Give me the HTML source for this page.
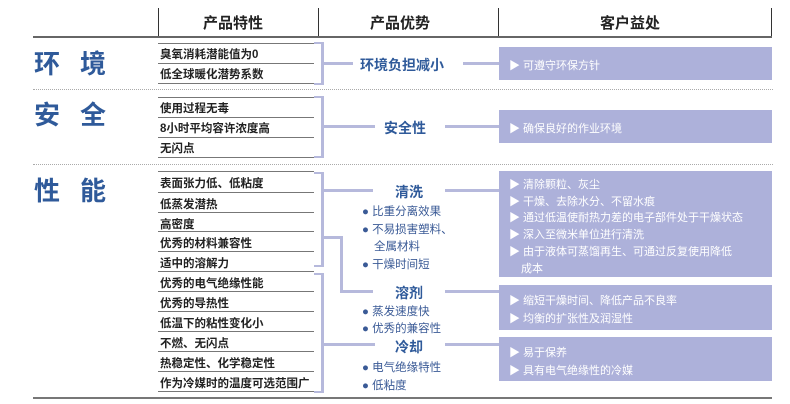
<!DOCTYPE html>
<html><head><meta charset="utf-8"><style>
body{margin:0;width:790px;height:404px;background:#fff;position:relative;overflow:hidden;font-family:"Liberation Sans","Noto Sans CJK SC",sans-serif}
div,span{position:absolute}
.h{font-size:15px;font-weight:bold;color:#222;top:12px}
.cat{font-size:26px;color:#2f5a9a;font-weight:bold;letter-spacing:20px}
.r{left:160px;font-size:11.5px;font-weight:bold;color:#222}
.ln{left:158px;width:156px;height:1px;background:#777}
.dot{left:33px;width:740px;border-top:1px dotted #aaa;height:0}
.b{background:#b6b9dc}
.box{left:499px;width:273px;background:#adb1da;color:#fff;font-size:11px}
.box p{margin:0;position:absolute;left:10px}
.mid{font-size:14px;color:#2f5a9a;font-weight:bold}
.bul{font-size:11.5px;color:#3a5a96;left:362px}
</style></head><body>
<div style="left:158px;top:8px;width:1px;height:28px;background:#333"></div>
<div style="left:318px;top:8px;width:1px;height:28px;background:#333"></div>
<div style="left:498px;top:8px;width:1px;height:28px;background:#333"></div>
<div style="left:771px;top:8px;width:1px;height:28px;background:#333"></div>
<div class="h" style="left:203px">产品特性</div>
<div class="h" style="left:370px">产品优势</div>
<div class="h" style="left:600px">客户益处</div>
<div style="left:33px;top:36px;width:739px;height:2px;background:#666"></div>

<div class="cat" style="left:34px;top:44px">环境</div>
<div class="cat" style="left:34px;top:95px">安全</div>
<div class="cat" style="left:34px;top:171px">性能</div>

<div class="ln" style="top:43px"></div><div class="ln" style="top:63px"></div><div class="ln" style="top:83px"></div>
<div class="r" style="top:46px">臭氧消耗潜能值为0</div>
<div class="r" style="top:66px">低全球暖化潜势系数</div>
<div class="dot" style="top:89px"></div>
<div class="ln" style="top:97px"></div><div class="ln" style="top:117px"></div><div class="ln" style="top:137px"></div><div class="ln" style="top:157px"></div>
<div class="r" style="top:100px">使用过程无毒</div>
<div class="r" style="top:120px">8小时平均容许浓度高</div>
<div class="r" style="top:140px">无闪点</div>
<div class="dot" style="top:164px"></div>
<div class="ln" style="top:171px"></div>
<div class="r" style="top:175px">表面张力低、低粘度</div><div class="ln" style="top:192px"></div>
<div class="r" style="top:196px">低蒸发潜热</div><div class="ln" style="top:212px"></div>
<div class="r" style="top:216px">高密度</div><div class="ln" style="top:231px"></div>
<div class="r" style="top:235px">优秀的材料兼容性</div><div class="ln" style="top:251px"></div>
<div class="r" style="top:255px">适中的溶解力</div><div class="ln" style="top:271px"></div>
<div class="r" style="top:275px">优秀的电气绝缘性能</div><div class="ln" style="top:291px"></div>
<div class="r" style="top:295px">优秀的导热性</div><div class="ln" style="top:311px"></div>
<div class="r" style="top:315px">低温下的粘性变化小</div><div class="ln" style="top:331px"></div>
<div class="r" style="top:335px">不燃、无闪点</div><div class="ln" style="top:351px"></div>
<div class="r" style="top:355px">热稳定性、化学稳定性</div><div class="ln" style="top:371px"></div>
<div class="r" style="top:375px">作为冷媒时的温度可选范围广</div><div class="ln" style="top:391px"></div>
<div style="left:33px;top:397px;width:739px;height:2px;background:#777"></div>

<div class="b" style="left:314px;top:42px;width:9px;height:2px"></div>
<div class="b" style="left:321px;top:42px;width:3px;height:43px"></div>
<div class="b" style="left:314px;top:83px;width:9px;height:2px"></div>
<div class="b" style="left:323px;top:62px;width:30px;height:3px"></div>
<div class="mid" style="left:360px;top:55px">环境负担减小</div>
<div class="b" style="left:463px;top:62px;width:36px;height:3px"></div>

<div class="b" style="left:314px;top:96px;width:9px;height:2px"></div>
<div class="b" style="left:321px;top:96px;width:3px;height:62px"></div>
<div class="b" style="left:314px;top:156px;width:9px;height:2px"></div>
<div class="b" style="left:323px;top:125px;width:52px;height:3px"></div>
<div class="mid" style="left:384px;top:118px">安全性</div>
<div class="b" style="left:445px;top:125px;width:54px;height:3px"></div>

<div class="b" style="left:314px;top:172px;width:9px;height:2px"></div>
<div class="b" style="left:321px;top:172px;width:3px;height:95px"></div>
<div class="b" style="left:314px;top:265px;width:9px;height:2px"></div>
<div class="b" style="left:323px;top:189px;width:50px;height:3px"></div>
<div class="b" style="left:323px;top:236px;width:20px;height:3px"></div>
<div class="b" style="left:340px;top:236px;width:3px;height:57px"></div>
<div class="b" style="left:340px;top:290px;width:33px;height:3px"></div>
<div class="mid" style="left:395px;top:182px">清洗</div>
<div class="b" style="left:445px;top:189px;width:54px;height:3px"></div>
<div class="bul" style="top:203px">● 比重分离效果</div>
<div class="bul" style="top:221px">● 不易损害塑料、</div>
<div class="bul" style="top:238px;left:374px">全属材料</div>
<div class="bul" style="top:256px">● 干燥时间短</div>

<div class="b" style="left:314px;top:273px;width:9px;height:2px"></div>
<div class="b" style="left:321px;top:273px;width:3px;height:120px"></div>
<div class="b" style="left:314px;top:391px;width:9px;height:2px"></div>
<div class="b" style="left:323px;top:343px;width:52px;height:3px"></div>
<div class="mid" style="left:395px;top:283px">溶剂</div>
<div class="b" style="left:445px;top:290px;width:54px;height:3px"></div>
<div class="bul" style="top:303px">● 蒸发速度快</div>
<div class="bul" style="top:320px">● 优秀的兼容性</div>
<div class="mid" style="left:395px;top:337px">冷却</div>
<div class="b" style="left:445px;top:343px;width:54px;height:3px"></div>
<div class="bul" style="top:359px">● 电气绝缘特性</div>
<div class="bul" style="top:377px">● 低粘度</div>

<div class="box" style="top:47px;height:33px"><p style="top:10px">▶ 可遵守环保方针</p></div>
<div class="box" style="top:110px;height:33px"><p style="top:10px">▶ 确保良好的作业环境</p></div>
<div class="box" style="top:171px;height:106px">
<p style="top:5px">▶ 清除颗粒、灰尘</p>
<p style="top:22px">▶ 干燥、去除水分、不留水痕</p>
<p style="top:38px">▶ 通过低温使耐热力差的电子部件处于干燥状态</p>
<p style="top:55px">▶ 深入至微米单位进行清洗</p>
<p style="top:72px">▶ 由于液体可蒸馏再生、可通过反复使用降低</p>
<p style="top:89px;left:22px">成本</p></div>
<div class="box" style="top:285px;height:45px"><p style="top:7px">▶ 缩短干燥时间、降低产品不良率</p><p style="top:25px">▶ 均衡的扩张性及润湿性</p></div>
<div class="box" style="top:337px;height:44px"><p style="top:7px">▶ 易于保养</p><p style="top:25px">▶ 具有电气绝缘性的冷媒</p></div>
</body></html>
